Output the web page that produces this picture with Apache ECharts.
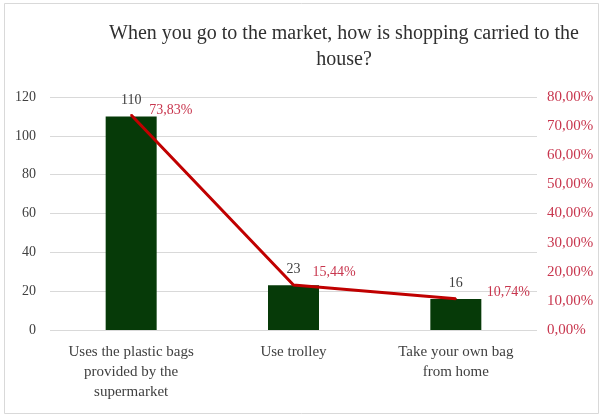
<!DOCTYPE html>
<html>
<head>
<meta charset="utf-8">
<script src="https://cdn.jsdelivr.net/npm/echarts@6/dist/echarts.min.js"></script>
<style>
  html, body { margin: 0; padding: 0; background: #ffffff; }
  #chart { width: 603px; height: 418px; }
</style>
</head>
<body>
<div id="chart"></div>
<script>
// Survey: how shopping is carried home from the market
const categories = [
  'Uses the plastic bags\nprovided by the\nsupermarket',
  'Use trolley',
  'Take your own bag\nfrom home'
];
const counts = [110, 23, 16];
const shares = [0.7383, 0.1544, 0.1074];

const countTicks = { min: 0, max: 120, step: 20 };
const shareTicks = { min: 0, max: 0.8, step: 0.1 };

// per-point placement of the percentage labels
const shareLabelOffsets = [[9, -5], [10, -13], [22, -6]];

const serif = '"Liberation Serif", "Times New Roman", serif';
const textGrey = '#404040';
const pctRed = '#c8364e';

const pct = v => (Math.round(v * 10000) / 100).toFixed(2).replace('.', ',') + '%';

const chart = echarts.init(document.getElementById('chart'), null, { renderer: 'canvas' });

chart.setOption({
  backgroundColor: '#ffffff',
  animation: false,
  title: {
    text: 'When you go to the market, how is shopping carried to the\nhouse?',
    left: 344,
    top: 21,
    padding: 0,
    textAlign: 'center',
    textStyle: {
      fontFamily: serif,
      fontSize: 20,
      fontWeight: 'normal',
      color: '#303030',
      lineHeight: 26
    }
  },
  graphic: [{
    type: 'rect',
    shape: { x: 4.5, y: 3.5, width: 594, height: 410 },
    style: { fill: 'none', stroke: '#d9d9d9', lineWidth: 1 },
    silent: true,
    z: -1
  }],
  grid: { left: 50, right: 66, top: 97, bottom: 88 },
  xAxis: {
    type: 'category',
    data: categories,
    axisLine: { show: false },
    axisTick: { show: false },
    axisLabel: {
      interval: 0,
      margin: 12,
      fontFamily: serif,
      fontSize: 15,
      lineHeight: 20,
      color: textGrey
    }
  },
  yAxis: [
    {
      type: 'value',
      min: countTicks.min,
      max: countTicks.max,
      interval: countTicks.step,
      axisLine: { show: false },
      axisTick: { show: false },
      splitLine: { lineStyle: { color: '#d9d9d9', width: 1 } },
      axisLabel: {
        margin: 14,
        fontFamily: serif,
        fontSize: 14,
        color: textGrey
      }
    },
    {
      type: 'value',
      position: 'right',
      min: shareTicks.min,
      max: shareTicks.max,
      interval: shareTicks.step,
      axisLine: { show: false },
      axisTick: { show: false },
      splitLine: { show: false },
      axisLabel: {
        margin: 10,
        fontFamily: serif,
        fontSize: 15,
        color: pctRed,
        formatter: v => pct(v)
      }
    }
  ],
  series: [
    {
      name: 'Count',
      type: 'bar',
      yAxisIndex: 0,
      data: counts,
      barWidth: 51,
      itemStyle: { color: '#063a08' },
      label: {
        show: true,
        position: 'top',
        distance: 9,
        fontFamily: serif,
        fontSize: 14,
        color: textGrey
      },
      z: 2
    },
    {
      name: 'Share',
      type: 'line',
      yAxisIndex: 1,
      data: shares.map((v, i) => ({
        value: v,
        label: { offset: shareLabelOffsets[i] }
      })),
      showSymbol: true,
      symbol: 'circle',
      symbolSize: 2,
      itemStyle: { color: '#c00000' },
      lineStyle: { color: '#c00000', width: 3 },
      label: {
        show: true,
        position: 'right',
        distance: 8,
        fontFamily: serif,
        fontSize: 14,
        color: pctRed,
        formatter: p => pct(p.value)
      },
      z: 3
    }
  ]
});
</script>
</body>
</html>
